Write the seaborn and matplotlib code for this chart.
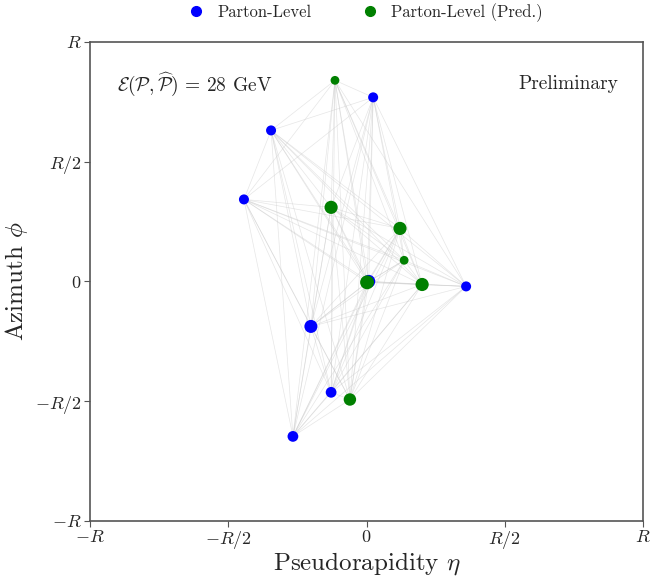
import numpy as np
import pandas as pd
import matplotlib
matplotlib.use("Agg")
import matplotlib.pyplot as plt
import seaborn as sns

# point clouds (eta, phi in units of R) and marker sizes
blue_eta = [0.024, -0.345, -0.443, 0.008, 0.360, -0.201, -0.128, -0.266]
blue_phi = [0.768, 0.630, 0.342, 0.000, -0.021, -0.188, -0.463, -0.647]
blue_size = [52, 52, 52, 88, 52, 88, 60, 60]

green_eta = [-0.114, -0.128, 0.121, 0.136, 0.002, 0.201, -0.060]
green_phi = [0.839, 0.309, 0.221, 0.088, -0.004, -0.013, -0.493]
green_size = [40, 90, 90, 40, 100, 90, 80]

labels = ["Parton-Level", "Parton-Level (Pred.)"]
tick_vals = [-1, -0.5, 0, 0.5, 1]
tick_labels = ["$-R$", "$-R/2$", "$0$", "$R/2$", "$R$"]

df = pd.DataFrame({
    "eta": blue_eta + green_eta,
    "phi": blue_phi + green_phi,
    "size": blue_size + green_size,
    "kind": [labels[0]] * len(blue_eta) + [labels[1]] * len(green_eta),
})

sns.set_style("white")
plt.rcParams["font.family"] = ["cmr10"]
plt.rcParams["mathtext.fontset"] = "cm"
plt.rcParams["axes.formatter.use_mathtext"] = True

fig = plt.figure(figsize=(6.51, 5.76), dpi=100)
ax = fig.add_axes([0.138, 0.0955, 0.850, 0.832])

# edges between every pair of points
pts = df[["eta", "phi"]].to_numpy()
for i in range(len(pts)):
    for j in range(i + 1, len(pts)):
        ax.plot([pts[i, 0], pts[j, 0]], [pts[i, 1], pts[j, 1]],
                color="#c8c8c8", lw=0.5, alpha=0.45, zorder=1)

sns.scatterplot(data=df, x="eta", y="phi", hue="kind", size="size",
                sizes=(min(df["size"]), max(df["size"])),
                palette={labels[0]: "blue", labels[1]: "green"},
                edgecolor="none", linewidth=0, ax=ax, zorder=3, legend=False)

ax.set_xlim(-1, 1)
ax.set_ylim(-1, 1)
ax.set_xticks(tick_vals)
ax.set_xticklabels(tick_labels, fontsize=13)
ax.set_yticks(tick_vals)
ax.set_yticklabels(tick_labels, fontsize=13)
ax.tick_params(direction="out", length=4, color="#555555", bottom=True, left=True, pad=2)
for s in ax.spines.values():
    s.set_color("#555555")
    s.set_linewidth(1.2)

ax.set_xlabel(r"Pseudorapidity $\eta$", fontsize=18, labelpad=-1)
ax.set_ylabel(r"Azimuth $\phi$", fontsize=18, labelpad=3)

ax.text(0.049, 0.912, r"$\mathcal{E}(\mathcal{P},\widehat{\mathcal{P}})$ = 28 GeV",
        transform=ax.transAxes, fontsize=14, va="center", ha="left")
ax.text(0.955, 0.912, "Preliminary", transform=ax.transAxes,
        fontsize=14, va="center", ha="right")

handles = [plt.Line2D([], [], marker="o", ls="", color=c, markersize=7)
           for c in ["blue", "green"]]
ax.legend(handles, labels, loc="lower center", bbox_to_anchor=(0.49, 1.01),
          ncol=2, frameon=False, fontsize=12, handletextpad=0.3, columnspacing=2.5)

fig.savefig("out.png", dpi=100)
